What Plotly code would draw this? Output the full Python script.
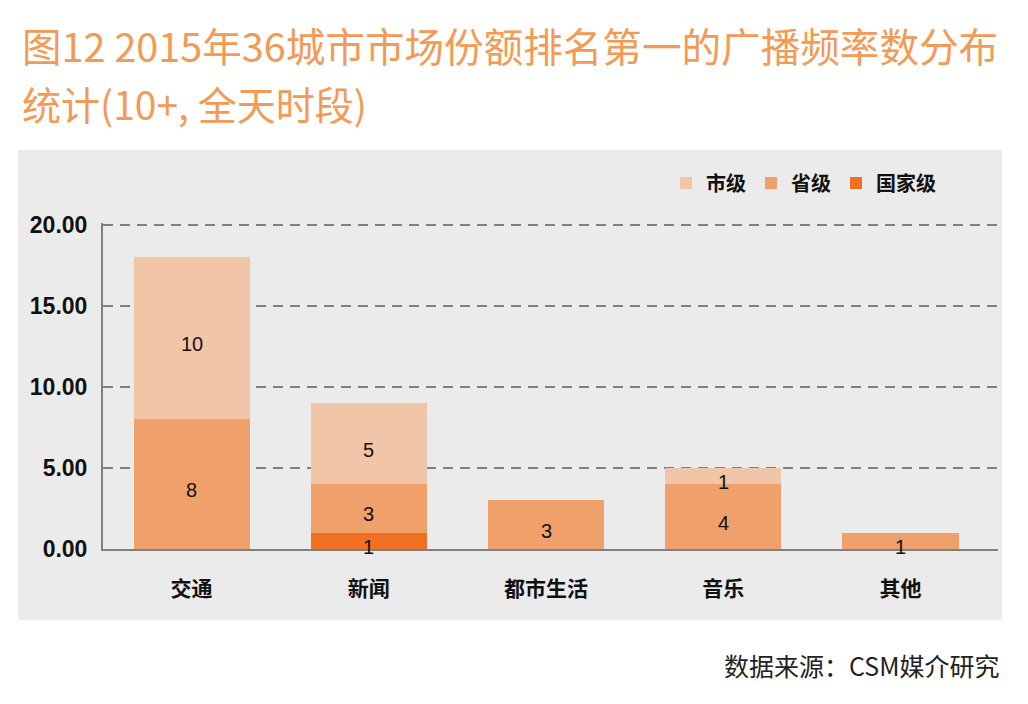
import plotly.graph_objects as go

# data
categories = ["交通", "新闻", "都市生活", "音乐", "其他"]
city_level = [10, 5, 0, 1, 0]        # 市级
province_level = [8, 3, 3, 4, 1]     # 省级
national_level = [0, 1, 0, 0, 0]     # 国家级
y_ticks = [0, 5, 10, 15, 20]

W, H = 1028, 704
L, R, T, B = 103, 30, 223, 155
PW, PH = W - L - R, H - T - B


def px(x):
    return (x - L) / PW


def py(y):
    return (H - B - y) / PH


COLORS = {"市级": "#F1C5A8", "省级": "#F0A06A", "国家级": "#F27022"}
FONT = "Liberation Sans, Arial, Noto Sans CJK SC, sans-serif"
TITLE_FONT = "Noto Sans CJK SC"

fig = go.Figure()
series = [("国家级", national_level, 3), ("省级", province_level, 2), ("市级", city_level, 1)]
for name, vals, rank in series:
    fig.add_trace(go.Bar(
        x=categories, y=vals, name=name, legendrank=rank,
        marker=dict(color=COLORS[name], line=dict(width=0)),
        hoverinfo="x+y+name",
    ))

# segment labels at the middle of each stacked piece
annotations = []
base = [0] * len(categories)
for name, vals, rank in series:
    for i, v in enumerate(vals):
        if v:
            annotations.append(dict(
                x=categories[i], y=base[i] + v / 2, xref="x", yref="y",
                text=str(v), showarrow=False, yshift=-6,
                font=dict(family=FONT, size=20, color="#111111"),
            ))
        base[i] += v

annotations += [
    dict(x=px(20), y=py(44), xref="paper", yref="paper", xanchor="left", yanchor="middle",
         text="图12 2015年36城市市场份额排名第一的广播频率数分布", showarrow=False,
         font=dict(family=TITLE_FONT, size=39.6, color="#F39A55")),
    dict(x=px(20), y=py(103), xref="paper", yref="paper", xanchor="left", yanchor="middle",
         text="统计(10+, 全天时段)", showarrow=False,
         font=dict(family=TITLE_FONT, size=39, color="#F39A55")),
    dict(x=px(1001), y=py(665), xref="paper", yref="paper", xanchor="right", yanchor="middle",
         text="数据来源：CSM媒介研究", showarrow=False,
         font=dict(family=TITLE_FONT, size=25, color="#222222")),
]

fig.update_layout(
    width=W, height=H,
    margin=dict(l=L, r=R, t=T, b=B, pad=0, autoexpand=False),
    paper_bgcolor="white",
    plot_bgcolor="#EBEBEB",
    barmode="stack",
    bargap=0.345,
    showlegend=True,
    legend=dict(
        orientation="h", traceorder="normal", x=px(666), y=py(183),
        xanchor="left", yanchor="middle",
        bgcolor="rgba(0,0,0,0)",
        font=dict(family=FONT, size=20, color="#111111", weight="bold"),
        itemclick=False,
    ),
    xaxis=dict(
        range=[-0.5, 4.55], showgrid=False, showline=True, linecolor="#808080", linewidth=2,
        ticks="", ticklabelstandoff=20,
        tickfont=dict(family=FONT, size=21, color="#111111", weight="bold"),
    ),
    yaxis=dict(
        range=[0, 20.1], tickvals=y_ticks, tickformat=".2f",
        showgrid=True, gridcolor="#7F7F7F", gridwidth=2, griddash="10px,7px",
        showline=True, linecolor="#808080", linewidth=2, zeroline=False,
        ticks="", ticklabelstandoff=9,
        tickfont=dict(family=FONT, size=23, color="#111111", weight="bold"),
    ),
    annotations=annotations,
    shapes=[dict(
        type="rect", xref="paper", yref="paper", layer="below",
        x0=px(18), x1=px(1002), y0=py(620), y1=py(150),
        fillcolor="#EBEBEB", line=dict(width=0),
    )],
    font=dict(family=FONT),
)

fig.write_html("out.html", config={"displayModeBar": False},
               post_script="document.body.style.margin='0';")
